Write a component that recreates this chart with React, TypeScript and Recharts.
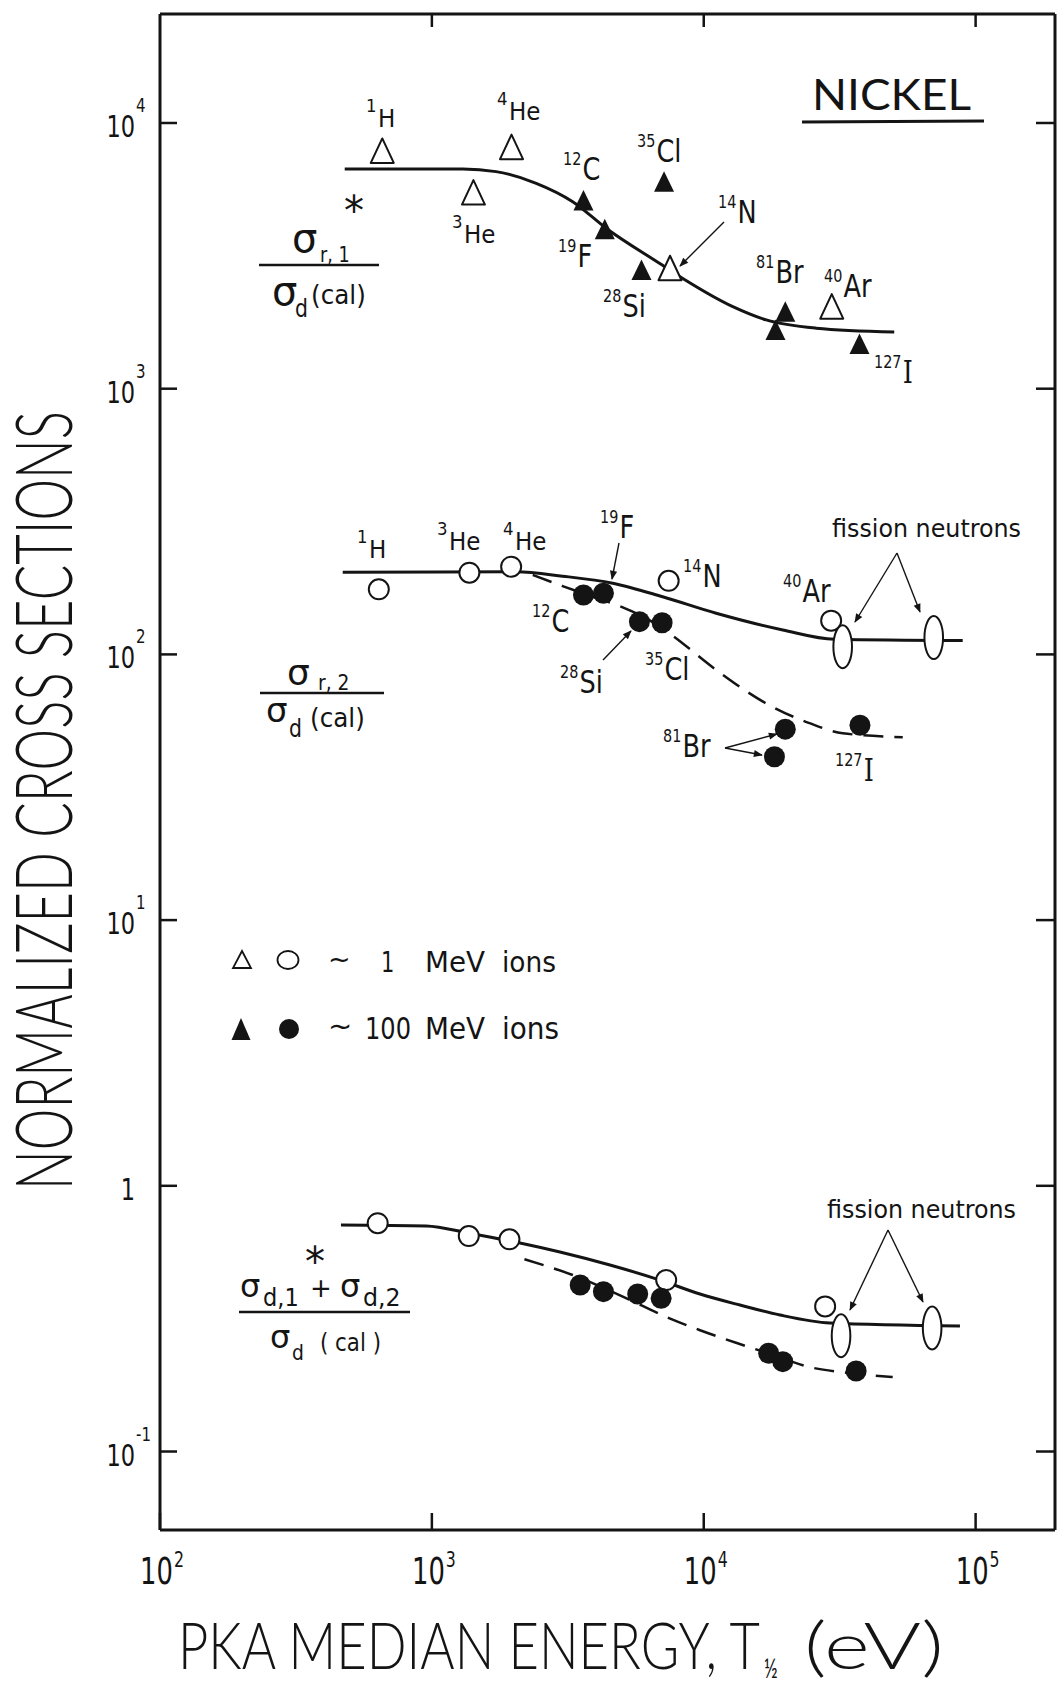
import React from 'react';
import { ComposedChart, Line, Scatter, XAxis, YAxis, Legend } from 'recharts';

const W = 1057;
const H = 1683;
const INK = '#141414';
const FONT = '"DejaVu Sans", "Liberation Sans", sans-serif';
const TITLE_FONT = 'Lato, "DejaVu Sans", sans-serif';
const SERIF = '"DejaVu Serif", "Liberation Serif", serif';

// frame: 10^2 .. ~2e5 eV across, 10^-1.3 .. 10^4.4 up
const T_DOMAIN: [number, number] = [100, 10 ** 5.292];
const V_DOMAIN: [number, number] = [10 ** -1.2954, 10 ** 4.4102];
const T_TICKS = [100, 1000, 10000, 100000];
const T_TOP_TICKS = [1000, 10000, 100000];
const V_TICKS = [0.1, 1, 10, 100, 1000, 10000];

// sigma_r,1* / sigma_d(cal)
const R1_OPEN_T = [657, 1422, 1963, 7516, 29570];
const R1_OPEN_V = [7850, 5470, 8110, 2840, 2036];
const R1_FILLED_T = [3611, 4325, 5902, 7145, 19950, 18360, 37400];
const R1_FILLED_V = [5110, 3981, 2800, 6010, 1950, 1664, 1473];
const R1_CURVE_T = [478, 1300, 1722, 2420, 3296, 4375, 6870, 8375, 12790, 16980, 25880, 50200];
const R1_CURVE_V = [6710, 6710, 6560, 5930, 5056, 4018, 2965, 2600, 2037, 1815, 1690, 1635];

// sigma_r,2 / sigma_d(cal)
const R2_OPEN_T = [638, 1374, 1957, 7430, 29420];
const R2_OPEN_V = [175.8, 203, 213.8, 189.2, 134];
const R2_FILLED_T = [3611, 4276, 5800, 7030, 19950, 18200, 37550];
const R2_FILLED_V = [167.3, 169.9, 132.8, 131.6, 52.3, 41.2, 54.1];
const R2_FISSION_T = [32440, 70150];
const R2_FISSION_V = [106.9, 115.7];
const R2_SOLID_T = [470, 2040, 3026, 4625, 7060, 11110, 19540, 30270, 89650];
const R2_SOLID_V = [204, 204.5, 197, 185.3, 164.8, 142.8, 123.6, 114, 112.7];
const R2_DASHED_T = [2350, 3026, 3909, 5036, 6310, 7485, 11110, 16960, 24480, 32440, 53950];
const R2_DASHED_V = [199, 180.8, 164.8, 150.4, 134.6, 119.9, 87.4, 65.4, 55.1, 50.5, 48.8];

// (sigma_d,1* + sigma_d,2) / sigma_d(cal)
const D_OPEN_T = [632, 1367, 1929, 7275, 27960];
const D_OPEN_V = [0.723, 0.647, 0.629, 0.442, 0.3517];
const D_FILLED_T = [3512, 4276, 5715, 6970, 17330, 19530, 36350];
const D_FILLED_V = [0.4232, 0.3997, 0.3916, 0.3772, 0.2344, 0.2178, 0.2009];
const D_FISSION_T = [31990, 69200];
const D_FISSION_V = [0.2727, 0.2917];
const D_SOLID_T = [463, 953, 1374, 2109, 2958, 4519, 6902, 9683, 13590, 19070, 29120, 87580];
const D_SOLID_V = [0.712, 0.706, 0.663, 0.609, 0.5633, 0.5033, 0.4418, 0.3915, 0.3558, 0.3264, 0.3045, 0.2967];
const D_DASHED_T = [2190, 3296, 4898, 7485, 9640, 13150, 17440, 24470, 33400, 49540];
const D_DASHED_V = [0.529, 0.4615, 0.388, 0.3172, 0.2867, 0.2566, 0.2334, 0.2079, 0.1979, 0.1907];

const pts = (t: number[], v: number[]) => t.map((x, i) => ({ x, y: v[i] }));

// isotope labels: mass, element, left x, baseline y, small lettering
const ISO_LABELS: [string, string, number, number, boolean][] = [
  ['1', 'H', 366, 127, true],
  ['4', 'He', 497, 120, true],
  ['3', 'He', 452, 243, true],
  ['12', 'C', 563, 180, false],
  ['35', 'Cl', 637, 162, false],
  ['19', 'F', 558, 267, false],
  ['28', 'Si', 603, 317, false],
  ['14', 'N', 718, 223, false],
  ['81', 'Br', 756, 283, false],
  ['40', 'Ar', 824, 297, false],
  ['127', 'I', 874, 383, false],
  ['1', 'H', 357, 558, true],
  ['3', 'He', 437, 550, true],
  ['4', 'He', 503, 550, true],
  ['19', 'F', 600, 538, false],
  ['12', 'C', 532, 632, false],
  ['28', 'Si', 560, 693, false],
  ['35', 'Cl', 645, 680, false],
  ['14', 'N', 683, 587, false],
  ['40', 'Ar', 783, 602, false],
  ['81', 'Br', 663, 757, false],
  ['127', 'I', 835, 781, false],
];

// pointer arrows [x1, y1, x2, y2], head at the second point
const ARROWS: [number, number, number, number][] = [
  [724, 222, 680, 266],
  [619, 543, 612, 579],
  [603, 660, 631, 631],
  [725, 748, 777, 734],
  [725, 748, 762, 755],
  [897, 553, 855, 622],
  [897, 553, 920, 612],
  [888, 1230, 850, 1310],
  [888, 1230, 923, 1302],
];

const OpenTriangle = ({ cx, cy }: any) => (
  <path
    d={`M${cx},${cy - 12.5} L${cx + 11.5},${cy + 12} L${cx - 11.5},${cy + 12} Z`}
    fill="#fff"
    stroke={INK}
    strokeWidth={2}
    strokeLinejoin="round"
  />
);

const FilledTriangle = ({ cx, cy }: any) => (
  <path d={`M${cx},${cy - 10.5} L${cx + 10},${cy + 10} L${cx - 10},${cy + 10} Z`} fill={INK} />
);

const OpenCircle = ({ cx, cy }: any) => (
  <circle cx={cx} cy={cy} r={10} fill="#fff" stroke={INK} strokeWidth={2} />
);

const FilledCircle = ({ cx, cy }: any) => <circle cx={cx} cy={cy} r={10.5} fill={INK} />;

const FissionEllipse = ({ cx, cy }: any) => (
  <ellipse cx={cx} cy={cy} rx={9.3} ry={21.5} fill="#fff" stroke={INK} strokeWidth={2} />
);

function CText({ x, y, size, sx = 1, anchor = 'start', family = FONT, weight, len, children }: any) {
  return (
    <text
      transform={`translate(${x} ${y}) scale(${sx} 1)`}
      fontSize={size}
      fontFamily={family}
      fontWeight={weight}
      textAnchor={anchor}
      fill={INK}
      textLength={len}
      lengthAdjust={len ? 'spacingAndGlyphs' : undefined}
    >
      {children}
    </text>
  );
}

function powParts(v: number) {
  const e = Math.round(Math.log10(v));
  if (e === 0) return { base: '1', exp: '' };
  return { base: '10', exp: String(e) };
}

const LeftTick = ({ x, y, payload }: any) => {
  const { base, exp } = powParts(payload.value);
  return (
    <g>
      <line x1={x} y1={y} x2={x + 17} y2={y} stroke={INK} strokeWidth={2.5} />
      <CText x={x - 25} y={y + 14} size={30} sx={0.75} anchor="end">{base}</CText>
      {exp && <CText x={x - 24} y={y - 11} size={20} sx={0.75}>{exp}</CText>}
    </g>
  );
};

const RightTick = ({ x, y }: any) => (
  <line x1={x - 19} y1={y} x2={x} y2={y} stroke={INK} strokeWidth={2.5} />
);

const BottomTick = ({ x, y, payload }: any) => {
  const { base, exp } = powParts(payload.value);
  return (
    <g>
      <line x1={x} y1={y} x2={x} y2={y - 17} stroke={INK} strokeWidth={2.5} />
      <CText x={x + 13} y={y + 54} size={38} sx={0.68} anchor="end">{base}</CText>
      <CText x={x + 14} y={y + 37} size={21} sx={0.75}>{exp}</CText>
    </g>
  );
};

const TopTick = ({ x, y }: any) => (
  <line x1={x} y1={y} x2={x} y2={y + 13} stroke={INK} strokeWidth={2.5} />
);

function Iso({ mass, el, x, y, small }: { mass: string; el: string; x: number; y: number; small: boolean }) {
  return (
    <text transform={`translate(${x} ${y}) scale(${small ? 0.92 : 0.8} 1)`} fill={INK} fontFamily={FONT}>
      <tspan fontSize={18} dy={-15}>{mass}</tspan>
      <tspan fontSize={small ? 25 : 32} dx={1.5} dy={15} fontFamily={el === 'I' ? SERIF : FONT}>
        {el}
      </tspan>
    </text>
  );
}

// marker key, drawn in its own svg at (215, 935)
const LegendBox = () => (
  <svg width={360} height={115}>
    <path d="M27,16 L36,33 L18,33 Z" fill="#fff" stroke={INK} strokeWidth={1.8} />
    <ellipse cx={73} cy={25} rx={10.5} ry={9} fill="#fff" stroke={INK} strokeWidth={1.8} />
    <CText x={113} y={33} size={27}>~</CText>
    <CText x={166} y={37} size={28} sx={0.75}>1</CText>
    <CText x={210} y={37} size={28} len={60}>MeV</CText>
    <CText x={287} y={37} size={28} len={54}>ions</CText>
    <path d="M26,83 L35.5,105 L16.5,105 Z" fill={INK} />
    <circle cx={74} cy={94} r={10} fill={INK} />
    <CText x={113} y={101} size={29}>~</CText>
    <CText x={150} y={104} size={31} len={46}>100</CText>
    <CText x={210} y={104} size={31} len={60}>MeV</CText>
    <CText x={287} y={104} size={31} len={57}>ions</CText>
  </svg>
);

function Annotations() {
  return (
    <svg width={W} height={H} style={{ position: 'absolute', left: 0, top: 0, pointerEvents: 'none' }}>
      <defs>
        <marker
          id="head"
          viewBox="0 0 10 10"
          refX="9"
          refY="5"
          markerWidth="10"
          markerHeight="9"
          orient="auto"
          markerUnits="userSpaceOnUse"
        >
          <path d="M0,1 L10,5 L0,9 z" fill={INK} />
        </marker>
      </defs>

      {/* axis titles */}
      <text
        transform="translate(72 800.5) rotate(-90)"
        fontSize={78}
        fontFamily={TITLE_FONT}
        fontWeight={300}
        textAnchor="middle"
        fill={INK}
        textLength={779}
        lengthAdjust="spacingAndGlyphs"
      >
        NORMALIZED CROSS SECTIONS
      </text>
      <CText x={178} y={1669} size={66} family={TITLE_FONT} weight={300} len={582}>
        PKA MEDIAN ENERGY, T
      </CText>
      <CText x={764} y={1678} size={26} sx={0.72} family={TITLE_FONT}>½</CText>
      <CText x={804} y={1669} size={66} family={TITLE_FONT} weight={300} len={140}>(eV)</CText>

      {/* material */}
      <CText x={812} y={110} size={42} family={TITLE_FONT} len={159}>NICKEL</CText>
      <line x1={802} y1={122} x2={984} y2={121} stroke={INK} strokeWidth={3} />

      {/* panel ratios */}
      <CText x={292} y={252} size={40}>σ</CText>
      <CText x={320} y={262} size={22} sx={0.8}>r, 1</CText>
      <CText x={344} y={225} size={40}>*</CText>
      <line x1={259} y1={265} x2={379} y2={265} stroke={INK} strokeWidth={2.5} />
      <CText x={272} y={305} size={40}>σ</CText>
      <CText x={295} y={317} size={24} sx={0.85}>d</CText>
      <CText x={311} y={304} size={26} sx={0.95}>(cal)</CText>

      <CText x={287} y={685} size={36}>σ</CText>
      <CText x={318} y={690} size={22} sx={0.85}>r, 2</CText>
      <line x1={260} y1={693} x2={384} y2={693} stroke={INK} strokeWidth={2.5} />
      <CText x={266} y={722} size={34}>σ</CText>
      <CText x={289} y={737} size={24} sx={0.85}>d</CText>
      <CText x={310} y={727} size={26} sx={0.95}>(cal)</CText>

      <CText x={240} y={1297} size={32}>σ</CText>
      <CText x={263} y={1306} size={25} sx={0.9}>d,1</CText>
      <CText x={305} y={1276} size={40}>*</CText>
      <CText x={310} y={1297} size={26}>+</CText>
      <CText x={340} y={1297} size={32}>σ</CText>
      <CText x={363} y={1306} size={25} sx={0.95}>d,2</CText>
      <line x1={239} y1={1312} x2={410} y2={1312} stroke={INK} strokeWidth={2.5} />
      <CText x={270} y={1348} size={32}>σ</CText>
      <CText x={292} y={1360} size={22} sx={0.85}>d</CText>
      <CText x={320} y={1351} size={24} len={61}>( cal )</CText>

      {ISO_LABELS.map(([mass, el, x, y, small], i) => (
        <Iso key={i} mass={mass} el={el} x={x} y={y} small={small} />
      ))}

      <CText x={832} y={537} size={24} len={189}>fission neutrons</CText>
      <CText x={827} y={1218} size={24} len={189}>fission neutrons</CText>

      {ARROWS.map(([x1, y1, x2, y2], i) => (
        <line key={i} x1={x1} y1={y1} x2={x2} y2={y2} stroke={INK} strokeWidth={1.4} markerEnd="url(#head)" />
      ))}
    </svg>
  );
}

const lineProps = {
  dataKey: 'y',
  type: 'monotone' as const,
  stroke: INK,
  dot: false,
  activeDot: false,
  isAnimationActive: false,
  legendType: 'none' as const,
};

const axisLine = { stroke: INK, strokeWidth: 3 };

export default function App() {
  return (
    <div style={{ position: 'absolute', left: 0, top: 0, width: W, height: H, background: '#fff' }}>
      {/* axes are 1px thick so the frame sits at x 160..1055, y 14..1530 */}
      <ComposedChart width={W} height={H} margin={{ top: 13, right: 1, bottom: 152, left: 159 }}>
        <XAxis
          dataKey="x"
          type="number"
          scale="log"
          domain={T_DOMAIN}
          allowDataOverflow
          ticks={T_TICKS}
          interval={0}
          height={1}
          tickSize={0}
          tickMargin={0}
          tickLine={false}
          tick={BottomTick}
          axisLine={axisLine}
        />
        <XAxis
          xAxisId="top"
          orientation="top"
          dataKey="x"
          type="number"
          scale="log"
          domain={T_DOMAIN}
          allowDataOverflow
          ticks={T_TOP_TICKS}
          interval={0}
          height={1}
          tickSize={0}
          tickMargin={0}
          tickLine={false}
          tick={TopTick}
          axisLine={axisLine}
        />
        <YAxis
          dataKey="y"
          type="number"
          scale="log"
          domain={V_DOMAIN}
          allowDataOverflow
          ticks={V_TICKS}
          interval={0}
          width={1}
          tickSize={0}
          tickMargin={0}
          tickLine={false}
          tick={LeftTick}
          axisLine={axisLine}
        />
        <YAxis
          yAxisId="right"
          orientation="right"
          dataKey="y"
          type="number"
          scale="log"
          domain={V_DOMAIN}
          allowDataOverflow
          ticks={V_TICKS}
          interval={0}
          width={1}
          tickSize={0}
          tickMargin={0}
          tickLine={false}
          tick={RightTick}
          axisLine={axisLine}
        />

        <Line data={pts(R1_CURVE_T, R1_CURVE_V)} {...lineProps} strokeWidth={3} />
        <Line data={pts(R2_SOLID_T, R2_SOLID_V)} {...lineProps} strokeWidth={3} />
        <Line data={pts(R2_DASHED_T, R2_DASHED_V)} {...lineProps} strokeWidth={2.5} strokeDasharray="20 11" />
        <Line data={pts(D_SOLID_T, D_SOLID_V)} {...lineProps} strokeWidth={3} />
        <Line data={pts(D_DASHED_T, D_DASHED_V)} {...lineProps} strokeWidth={2.5} strokeDasharray="20 11" />

        <Scatter data={pts(R1_OPEN_T, R1_OPEN_V)} dataKey="y" shape={OpenTriangle} isAnimationActive={false} legendType="none" />
        <Scatter data={pts(R1_FILLED_T, R1_FILLED_V)} dataKey="y" shape={FilledTriangle} isAnimationActive={false} legendType="none" />
        <Scatter data={pts(R2_OPEN_T, R2_OPEN_V)} dataKey="y" shape={OpenCircle} isAnimationActive={false} legendType="none" />
        <Scatter data={pts(R2_FILLED_T, R2_FILLED_V)} dataKey="y" shape={FilledCircle} isAnimationActive={false} legendType="none" />
        <Scatter data={pts(R2_FISSION_T, R2_FISSION_V)} dataKey="y" shape={FissionEllipse} isAnimationActive={false} legendType="none" />
        <Scatter data={pts(D_OPEN_T, D_OPEN_V)} dataKey="y" shape={OpenCircle} isAnimationActive={false} legendType="none" />
        <Scatter data={pts(D_FILLED_T, D_FILLED_V)} dataKey="y" shape={FilledCircle} isAnimationActive={false} legendType="none" />
        <Scatter data={pts(D_FISSION_T, D_FISSION_V)} dataKey="y" shape={FissionEllipse} isAnimationActive={false} legendType="none" />

        <Legend
          layout="horizontal"
          verticalAlign="middle"
          align="center"
          content={LegendBox}
          wrapperStyle={{ left: 215, top: 935, width: 360, height: 115 }}
        />
      </ComposedChart>
      <Annotations />
    </div>
  );
}
